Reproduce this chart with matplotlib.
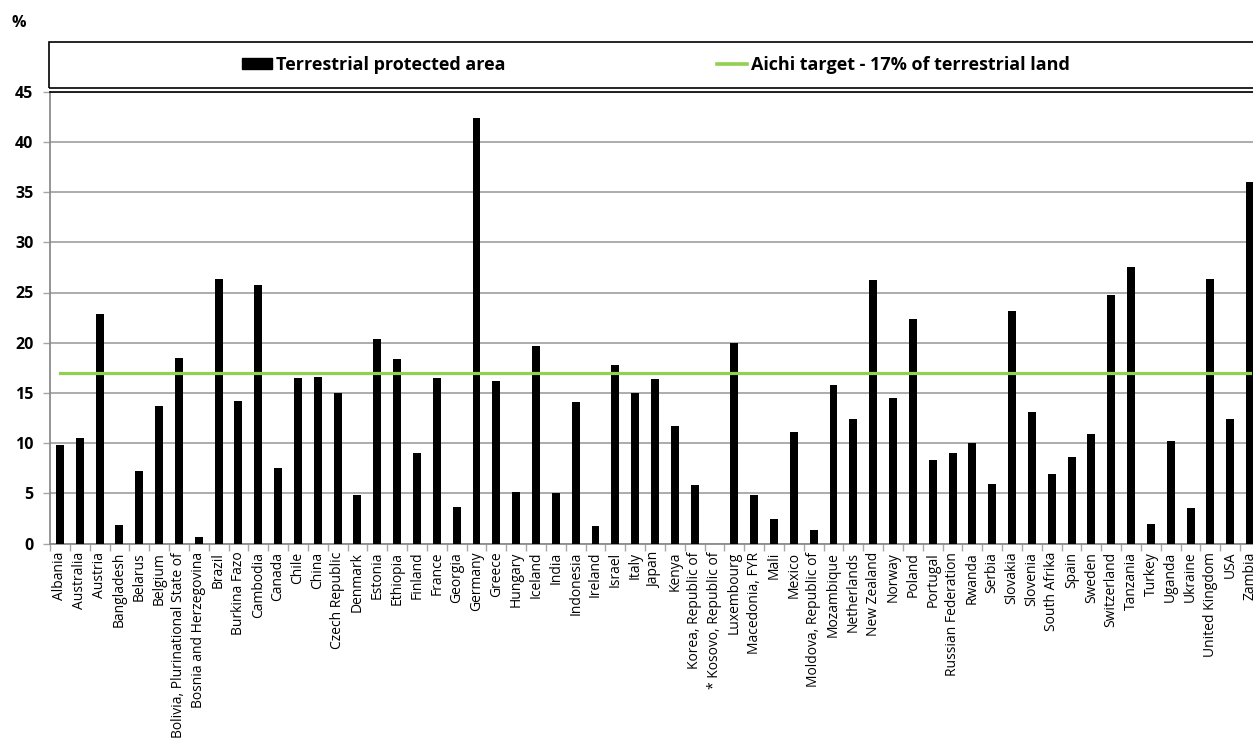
import matplotlib
matplotlib.use('Agg')
import matplotlib.pyplot as plt
from matplotlib.patches import Rectangle, Patch
from matplotlib.lines import Line2D
import numpy as np

# Share of terrestrial area that is protected, per country (%)
countries = [
    "Albania", "Australia", "Austria", "Bangladesh", "Belarus", "Belgium",
    "Bolivia, Plurinational State of", "Bosnia and Herzegovina", "Brazil",
    "Burkina Fazo", "Cambodia", "Canada", "Chile", "China", "Czech Republic",
    "Denmark", "Estonia", "Ethiopia", "Finland", "France", "Georgia", "Germany",
    "Greece", "Hungary", "Iceland", "India", "Indonesia", "Ireland", "Israel",
    "Italy", "Japan", "Kenya", "Korea, Republic of", "* Kosovo, Republic of",
    "Luxembourg", "Macedonia, FYR", "Mali", "Mexico", "Moldova, Republic of",
    "Mozambique", "Netherlands", "New Zealand", "Norway", "Poland", "Portugal",
    "Russian Federation", "Rwanda", "Serbia", "Slovakia", "Slovenia",
    "South Afrika", "Spain", "Sweden", "Switzerland", "Tanzania", "Turkey",
    "Uganda", "Ukraine", "United Kingdom", "USA", "Zambia",
]
protected = [
    9.8, 10.5, 22.9, 1.8, 7.2, 13.7,
    18.5, 0.6, 26.3,
    14.2, 25.7, 7.5, 16.5, 16.6, 15.0,
    4.8, 20.4, 18.4, 9.0, 16.5, 3.6, 42.4,
    16.2, 5.1, 19.7, 5.0, 14.1, 1.7, 17.8,
    15.0, 16.4, 11.7, 5.8, 0.0,
    20.0, 4.8, 2.4, 11.1, 1.3,
    15.8, 12.4, 26.2, 14.5, 22.4, 8.3,
    9.0, 10.0, 5.9, 23.2, 13.1,
    6.9, 8.6, 10.9, 24.8, 27.5, 1.9,
    10.2, 3.5, 26.3, 12.4, 36.0,
]
aichi_target = 17
yticks = [0, 5, 10, 15, 20, 25, 30, 35, 40, 45]

W, H = 1253, 740
fig = plt.figure(figsize=(W / 100, H / 100), dpi=100)
plt.rcParams['font.family'] = ['Open Sans', 'DejaVu Sans']

# plot area runs slightly past the right edge, as in the original
left, right, top, bottom = 50, 1260, 91.7, 543.5
ax = fig.add_axes([left / W, (H - bottom) / H, (right - left) / W, (bottom - top) / H])

x = np.arange(len(countries))
ax.bar(x, protected, width=0.4, color='black', zorder=3)
ax.plot([x[0], x[-1]], [aichi_target] * 2, color='#92D050', lw=2.3, zorder=4)

ax.set_xlim(-0.5, len(countries) - 0.5)
ax.set_ylim(0, 45)
ax.set_yticks(yticks)
ax.set_yticklabels([str(t) for t in yticks], fontsize=11.5, fontweight='bold')
ax.yaxis.grid(True, color='#a6a6a6', lw=1.3, zorder=0)

ax.set_xticks(x)
ax.set_xticklabels(countries, rotation=90, fontsize=10, va='top', ha='center')
ax.set_xticks(np.arange(len(countries) + 1) - 0.5, minor=True)
ax.tick_params(axis='x', which='major', length=0, pad=6)
ax.tick_params(axis='x', which='minor', length=5, color='#a6a6a6', width=1)
ax.tick_params(axis='y', length=5, color='#a6a6a6', width=1, pad=7)

for s in ['left', 'bottom']:
    ax.spines[s].set_color('#8c8c8c')
    ax.spines[s].set_linewidth(1.3)
ax.spines['top'].set_color('black')
ax.spines['top'].set_linewidth(1.2)
ax.spines['right'].set_visible(False)

fig.text(11 / W, 1 - 23 / H, '%', fontsize=11.5, fontweight='bold', va='center')

# legend box above the plot
fig.patches.append(Rectangle((49 / W, 1 - 88 / H), (1262 - 49) / W, 46 / H,
                             transform=fig.transFigure, fill=False,
                             edgecolor='black', lw=1.2))
handles = [Patch(facecolor='black', edgecolor='black'),
           Line2D([], [], color='#92D050', lw=2.6)]
fig.legend(handles, ["Terrestrial protected area", "Aichi target - 17% of terrestrial land"],
           loc='center', bbox_to_anchor=(656 / W, 1 - 65 / H), ncol=2, frameon=False,
           prop={'weight': 'bold', 'size': 13}, handlelength=1.65, handleheight=0.5,
           handletextpad=0.25, columnspacing=11.7)

fig.savefig('out.png', dpi=100)
